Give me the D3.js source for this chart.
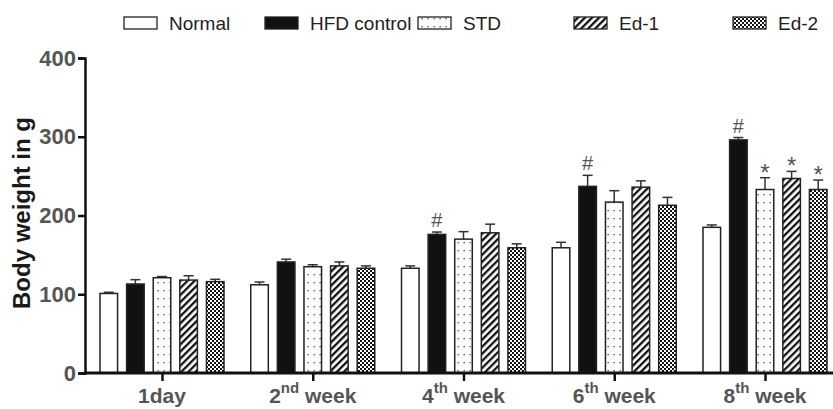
<!DOCTYPE html>
<html><head><meta charset="utf-8">
<script src="https://cdn.jsdelivr.net/npm/d3@7"></script>
<style>body{margin:0;background:#fff}svg{display:block}text{font-family:Arial,"Liberation Sans",sans-serif}</style>
</head><body><div id="chart"></div>
<script>
const categories = ["1day","2nd week","4th week","6th week","8th week"];
const catMain = ["1","2","4","6","8"];
const catSup = ["day","nd","th","th","th"];
const series = ["Normal","HFD control","STD","Ed-1","Ed-2"];
const normal = [101,112,133,159,185];
const hfd = [113,141,176,237,296];
const std = [121,135,170,217,233];
const ed1 = [118,136,178,236,247];
const ed2 = [116,133,159,213,233];
const normalErr = [1.5,3.5,3,7,3];
const hfdErr = [5.5,3.5,3,14,3];
const stdErr = [1.5,2.5,9.5,14.5,15];
const ed1Err = [5.5,5,11,8,9];
const ed2Err = [3,3,5,10,12];
const yTicks = [0,100,200,300,400];
const marks = [["","","","",""],["","","#","#","#"],["","","","","*"],["","","","","*"],["","","","","*"]];

const values = [normal,hfd,std,ed1,ed2];
const errs = [normalErr,hfdErr,stdErr,ed1Err,ed2Err];
const fills = ["#fff","#111","url(#pDots)","url(#pDiag)","url(#pCheck)"];

const W=833,H=409;
const svg=d3.select("#chart").append("svg").attr("width",W).attr("height",H);
const defs=svg.append("defs");
let p=defs.append("pattern").attr("id","pDots").attr("patternUnits","userSpaceOnUse").attr("width",6).attr("height",8);
p.append("rect").attr("width",6).attr("height",8).attr("fill","#fff");
p.append("rect").attr("x",1.5).attr("y",2).attr("width",1.3).attr("height",1.3).attr("fill","#444");
p=defs.append("pattern").attr("id","pDiag").attr("patternUnits","userSpaceOnUse").attr("width",5).attr("height",5).attr("patternTransform","rotate(45)");
p.append("rect").attr("width",5).attr("height",5).attr("fill","#fff");
p.append("rect").attr("x",0).attr("y",0).attr("width",2.3).attr("height",5).attr("fill","#111");
p=defs.append("pattern").attr("id","pCheck").attr("patternUnits","userSpaceOnUse").attr("width",4).attr("height",4);
p.append("rect").attr("width",4).attr("height",4).attr("fill","#fff");
p.append("rect").attr("x",0).attr("y",0).attr("width",2).attr("height",2).attr("fill","#111");
p.append("rect").attr("x",2).attr("y",2).attr("width",2).attr("height",2).attr("fill","#111");

const y=d3.scaleLinear().domain([0,400]).range([373,58]);
const x0=d3.scalePoint().domain(categories).range([162,765]);
const x1=d3.scaleBand().domain(series).range([-62,62]).paddingInner(0.34).paddingOuter(0);
const bw=x1.bandwidth();

// bars
categories.forEach((c,ci)=>{
  series.forEach((s,si)=>{
    const v=values[si][ci], e=errs[si][ci];
    const bx=x0(c)+x1(s);
    const cx=bx+bw/2;
    svg.append("line").attr("x1",cx).attr("x2",cx).attr("y1",y(v)).attr("y2",y(v+e)).attr("stroke","#333").attr("stroke-width",1.5);
    svg.append("line").attr("x1",cx-5).attr("x2",cx+5).attr("y1",y(v+e)).attr("y2",y(v+e)).attr("stroke","#333").attr("stroke-width",1.5);
    svg.append("rect").attr("x",bx).attr("y",y(v)).attr("width",bw).attr("height",y(0)-y(v))
      .attr("fill",fills[si]).attr("stroke","#222").attr("stroke-width",1.5);
    const m=marks[si][ci];
    if(m){
      svg.append("text").attr("x",cx).attr("y",m==="*"?y(v+e)+3:y(v+e)-5).attr("text-anchor","middle")
        .attr("font-size",m==="*"?24:20).attr("fill","#555").text(m);
    }
  });
});

// y axis
const ya=svg.append("g").attr("transform","translate(85,0)").call(d3.axisLeft(y).tickValues(yTicks).tickSize(7).tickPadding(2));
ya.select(".domain").attr("stroke","#111").attr("stroke-width",2.5);
ya.selectAll(".tick line").attr("stroke","#111").attr("stroke-width",2.5);
ya.selectAll(".tick text").attr("font-size",22).attr("font-weight","bold").attr("fill","#555").attr("font-family","Arial,'Liberation Sans',sans-serif");

// x axis
const xa=svg.append("g").attr("transform","translate(0,373)").call(d3.axisBottom(x0).tickSize(8).tickFormat(""));
xa.select(".domain").remove();
xa.selectAll(".tick line").attr("stroke","#111").attr("stroke-width",2.5);
svg.append("line").attr("x1",84).attr("x2",833).attr("y1",373).attr("y2",373).attr("stroke","#111").attr("stroke-width",3);
categories.forEach((c,i)=>{
  const t=svg.append("text").attr("x",x0(c)).attr("y",403).attr("text-anchor","middle")
    .attr("font-size",21).attr("font-weight","bold").attr("fill","#555");
  if(i===0){ t.text(categories[0]); }
  else{
    t.append("tspan").text(catMain[i]);
    t.append("tspan").attr("font-size",15).attr("dy",-10).text(catSup[i]);
    t.append("tspan").attr("dy",10).text(" week");
  }
});

// y title
svg.append("text").attr("transform","translate(30,213) rotate(-90)").attr("text-anchor","middle")
  .attr("font-size",24).attr("font-weight","bold").attr("fill","#1a1a1a").text("Body weight in g");

// legend
const legX=[124,265,418,574,733];
const lg=svg.append("g");
series.forEach((s,i)=>{
  lg.append("rect").attr("x",legX[i]).attr("y",17).attr("width",33).attr("height",12)
    .attr("fill",fills[i]).attr("stroke","#222").attr("stroke-width",1.3);
  lg.append("text").attr("x",legX[i]+45).attr("y",30).attr("font-size",19).attr("fill","#222").text(s);
});
</script></body></html>
